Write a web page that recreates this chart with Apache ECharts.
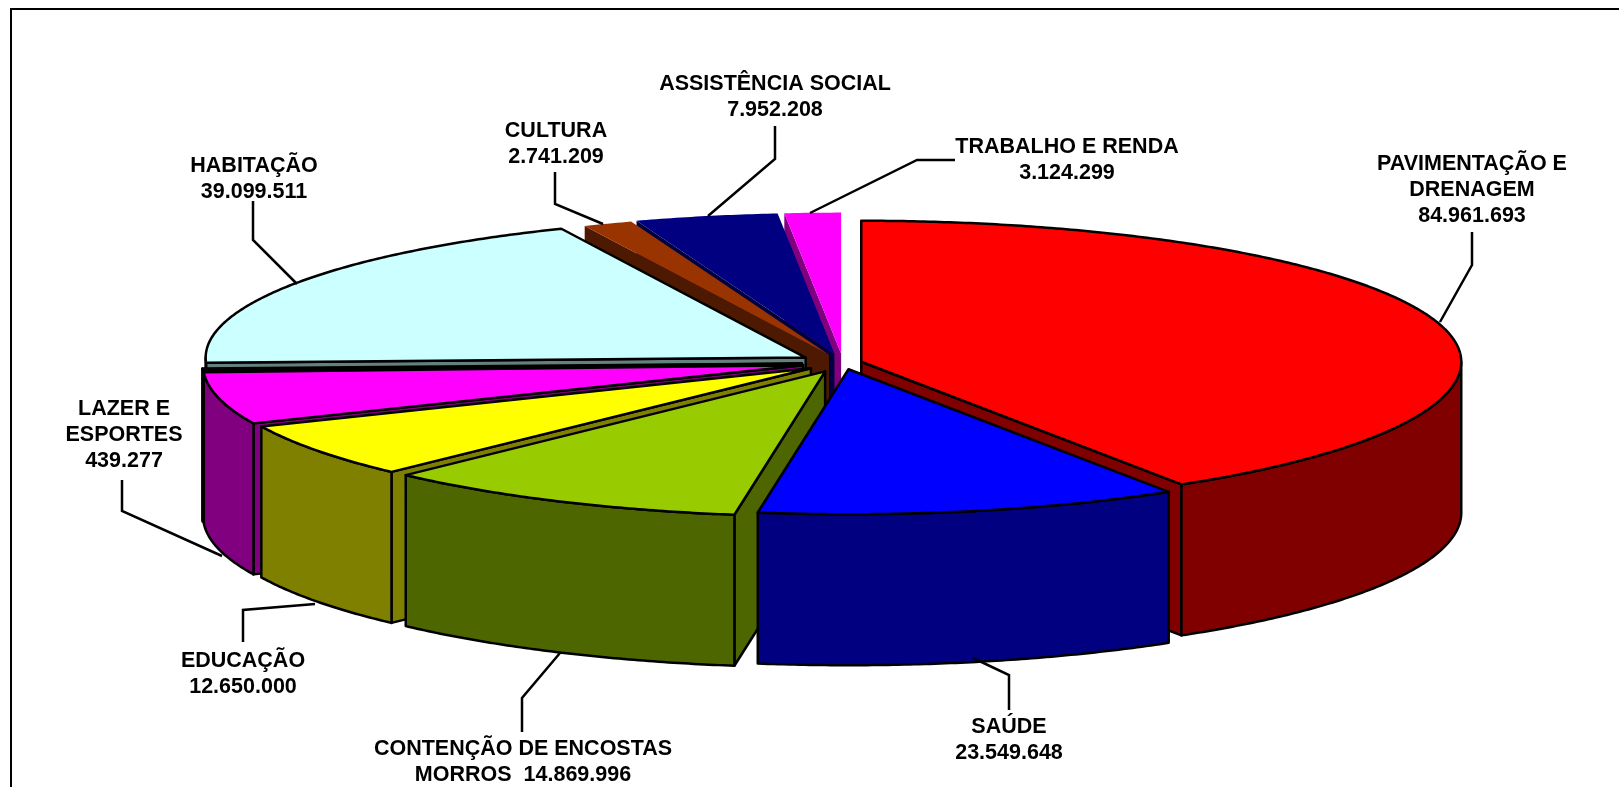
<!DOCTYPE html>
<html>
<head>
    <meta charset="utf-8">
    <title>Investimentos por área</title>
    <script src="https://cdn.jsdelivr.net/npm/echarts@6/dist/echarts.min.js"></script>
    <style>
        html, body { margin: 0; padding: 0; background: #fff; }
        #container { width: 1619px; height: 787px; }
    </style>
</head>
<body>
<div id="container"></div>
<script type="text/javascript">
    // slices clockwise from 12 o'clock
    var categories = ['PAVIMENTAÇÃO E DRENAGEM', 'SAÚDE', 'CONTENÇÃO DE ENCOSTAS MORROS', 'EDUCAÇÃO', 'SEM RÓTULO',
        'LAZER E ESPORTES', 'HABITAÇÃO', 'CULTURA', 'ASSISTÊNCIA SOCIAL', 'TRABALHO E RENDA'];
    // printed values, except green and the unlabelled magenta slice: sizes
    var sliceValues = [84961693, 23549648, 20500000, 12650000, 12000000, 439277, 39099511, 2741209, 7952208, 3124299];
    var topColors = ['#ff0000', '#0000ff', '#99cc00', '#ffff00', '#ff00ff', '#000000', '#ccffff', '#993300', '#000080', '#ff00ff'];
    var sideColors = ['#800000', '#000080', '#4d6600', '#808000', '#800080', '#000000', '#668080', '#4d1900', '#000040', '#800080'];
    var outlined = [true, true, true, true, true, true, true, false, false, false];
    // how far each slice is pulled out of the pie, px
    var explode = [19, 27, 40, 39, 41, 41, 44, 38, 40, 40];
    // back to front
    var drawOrder = [9, 8, 7, 6, 5, 4, 3, 2, 0, 1];

    var labelLines = [
        ['PAVIMENTAÇÃO E', 'DRENAGEM', '84.961.693'],
        ['SAÚDE', '23.549.648'],
        ['CONTENÇÃO DE ENCOSTAS', 'MORROS  14.869.996'],
        ['EDUCAÇÃO', '12.650.000'],
        ['LAZER E', 'ESPORTES', '439.277'],
        ['HABITAÇÃO', '39.099.511'],
        ['CULTURA', '2.741.209'],
        ['ASSISTÊNCIA SOCIAL', '7.952.208'],
        ['TRABALHO E RENDA', '3.124.299']
    ];
    // x, y of first text line
    var labelPos = [[1472, 164], [1009, 727], [523, 749], [243, 661], [124, 409], [254, 166], [556, 131], [775, 84], [1067, 147]];
    var leaders = [
        [[1472, 232], [1472, 265], [1440, 322]],
        [[1009, 710], [1009, 675], [973, 658]],
        [[522, 732], [522, 698], [560, 653]],
        [[243, 642], [243, 610], [315, 604]],
        [[122, 480], [122, 511], [222, 556]],
        [[253, 201], [253, 240], [297, 284]],
        [[555, 172], [555, 204], [603, 224]],
        [[775, 126], [775, 159], [708, 216]],
        [[955, 160], [917, 160], [810, 213]]
    ];

    // the near half of the ellipse is a little deeper than the far half
    var cx = 843, cy = 363, rx = 600, ryBack = 141, ryFront = 145, depth = 151;
    var fontStyle = 'bold 21.5px "Liberation Sans", Arial, sans-serif';

    var total = sliceValues.reduce(function (a, b) { return a + b; }, 0);
    var startAngles = [];
    var acc = 0;
    sliceValues.forEach(function (v) {
        startAngles.push(acc / total * 360);
        acc += v;
    });

    // angle in degrees, clockwise from the top
    function project(ox, oy, deg, dz) {
        var r = deg * Math.PI / 180;
        var c = Math.cos(r);
        return [ox + rx * Math.sin(r), oy - (c < 0 ? ryFront : ryBack) * c + dz];
    }

    function arc(ox, oy, from, to, dz) {
        var pts = [];
        var n = Math.max(2, Math.ceil((to - from) * 2));
        for (var i = 0; i <= n; i++) {
            pts.push(project(ox, oy, from + (to - from) * i / n, dz));
        }
        return pts;
    }

    function poly(points, fill, hasLine) {
        return {
            type: 'polygon',
            shape: { points: points },
            style: { fill: fill, stroke: hasLine ? '#000' : null, lineWidth: hasLine ? 2.5 : 0, lineJoin: 'round' }
        };
    }

    function renderSlice(params, api) {
        var i = api.value(0);
        var from = startAngles[i];
        var to = from + sliceValues[i] / total * 360;
        var mid = (from + to) / 2 * Math.PI / 180;
        var ox = cx + explode[i] * Math.sin(mid);
        var oy = cy - explode[i] * Math.cos(mid) * ryBack / rx;
        var tip = [ox, oy];
        var tipLow = [ox, oy + depth];
        var children = [];

        // a cut face only shows if it turns towards the viewer
        [from, to].forEach(function (deg, k) {
            var s = Math.sin(deg * Math.PI / 180);
            if (k === 0 ? s < -1e-6 : s > 1e-6) {
                children.push(poly([tip, project(ox, oy, deg, 0), project(ox, oy, deg, depth), tipLow], sideColors[i], outlined[i]));
            }
        });
        // only the front half of the rim can be seen
        var a = Math.max(from, 90), b = Math.min(to, 270);
        if (b > a) {
            var rim = arc(ox, oy, a, b, 0).concat(arc(ox, oy, a, b, depth).reverse());
            children.push(poly(rim, sideColors[i], outlined[i]));
        }
        children.push(poly([tip].concat(arc(ox, oy, from, to, 0)), topColors[i], outlined[i]));
        return { type: 'group', children: children };
    }

    // frame runs off the right and bottom of the page
    var graphicItems = [{
        type: 'rect',
        shape: { x: 11, y: 9, width: 1700, height: 850 },
        style: { fill: 'none', stroke: '#000', lineWidth: 2 },
        z: 0
    }];
    leaders.forEach(function (pts) {
        graphicItems.push({
            type: 'polyline',
            shape: { points: pts },
            style: { fill: 'none', stroke: '#000', lineWidth: 2.5 },
            z: 10
        });
    });

    var chart = echarts.init(document.getElementById('container'), null, { renderer: 'canvas' });
    chart.setOption({
        animation: false,
        backgroundColor: '#fff',
        graphic: { elements: graphicItems },
        series: [{
            type: 'custom',
            name: 'pizza',
            coordinateSystem: 'none',
            z: 5,
            silent: true,
            data: drawOrder.map(function (i) { return [i, sliceValues[i], categories[i]]; }),
            encode: { value: 1, itemName: 2 },
            renderItem: renderSlice
        }, {
            type: 'custom',
            name: 'rotulos',
            coordinateSystem: 'none',
            z: 6,
            silent: true,
            data: labelLines.map(function (l, i) { return [i]; }),
            renderItem: function (params, api) {
                var i = api.value(0);
                return {
                    type: 'group',
                    children: labelLines[i].map(function (line, k) {
                        return {
                            type: 'text',
                            style: {
                                text: line,
                                x: labelPos[i][0],
                                y: labelPos[i][1] + k * 26,
                                align: 'center',
                                verticalAlign: 'middle',
                                font: fontStyle,
                                fill: '#000'
                            }
                        };
                    })
                };
            }
        }]
    });
</script>
</body>
</html>
